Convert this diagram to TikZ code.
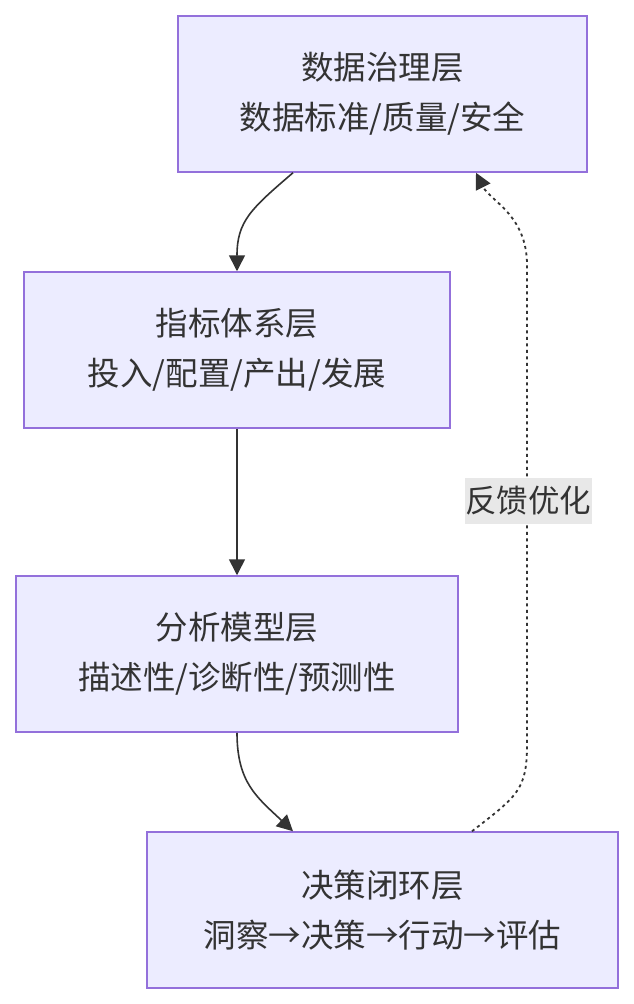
\documentclass[tikz,border=0pt]{standalone}
\usepackage{fontspec}
\newfontfamily\cjk{Noto Sans CJK SC}
\usetikzlibrary{arrows.meta}
\definecolor{boxfill}{HTML}{ECECFF}
\definecolor{boxline}{HTML}{9370DB}
\definecolor{ink}{HTML}{333333}
\definecolor{lblbg}{HTML}{E8E8E8}
\begin{document}
\begin{tikzpicture}[x=1pt,y=-1pt,
  layer/.style={draw=boxline,line width=1.5pt,fill=boxfill,minimum width=#1,
    minimum height=156pt,align=center,text=ink,inner sep=0pt,
    font=\cjk\fontsize{32.5}{50}\selectfont},
  flow/.style={draw=ink,line width=1.6pt,-{Triangle[length=16pt,width=16pt]}},
  feedback/.style={draw=ink,line width=1.8pt,dash pattern=on 3pt off 3.5pt,
    -{Triangle[length=16pt,width=16pt]}},
  edgelabel/.style={fill=lblbg,text=ink,inner xsep=0.5pt,inner ysep=0pt,
    minimum height=46pt,font=\cjk\fontsize{31.5}{36}\selectfont}]
\useasboundingbox (0,0) rectangle (634,1004);
\fill[white] (0,0) rectangle (634,1004);
\node[layer=409pt] (b1) at (382.5,94) {数据治理层\\数据标准/质量/安全};
\node[layer=426pt] (b2) at (237,350) {指标体系层\\投入/配置/产出/发展};
\node[layer=442pt] (b3) at (237,654) {分析模型层\\描述性/诊断性/预测性};
\node[layer=471pt] (b4) at (382.5,910) {决策闭环层\\洞察→决策→行动→评估};
\draw[flow] ([xshift=-89.5pt]b1.south) .. controls +(-42,36) and +(0,-50) .. (b2.north);
\draw[flow] (b2.south) -- (b3.north);
\draw[flow] (b3.south) .. controls +(0,50) and +(-36,-34) .. ([xshift=-89.5pt]b4.north);
\coordinate (d1) at (527,745);
\coordinate (d2) at (527,265);
\draw[feedback] ([xshift=89.5pt]b4.north) .. controls +(45,-35) and +(0,45) .. (d1) -- (d2) .. controls +(0,-50) and +(14,28) .. ([xshift=93.5pt]b1.south);
\node[edgelabel] (fb) at (528,501) {反馈优化};
\end{tikzpicture}
\end{document}
